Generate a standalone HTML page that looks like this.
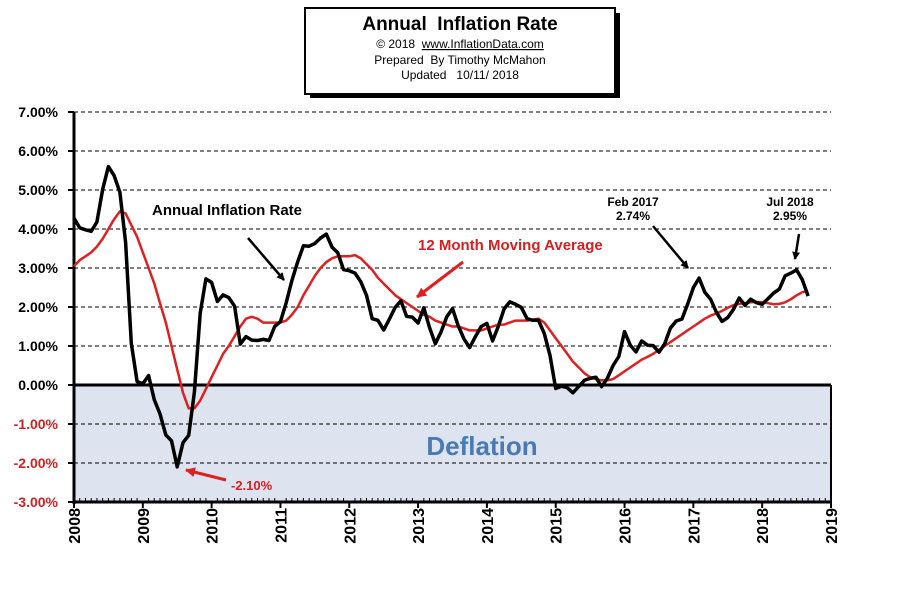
<!DOCTYPE html>
<html><head><meta charset="utf-8"><style>
body{margin:0;background:#fff;}
svg{display:block;font-family:"Liberation Sans",Arial,sans-serif;}
</style></head><body>
<svg id="chart" width="901" height="614">
<rect x="310" y="13" width="310" height="85" fill="#000"/>
<rect x="305" y="8" width="310" height="86" fill="#fff" stroke="#000" stroke-width="2"/>
<text x="460" y="30" text-anchor="middle" font-size="19" font-weight="bold">Annual&#160; Inflation Rate</text>
<text x="460" y="48" text-anchor="middle" font-size="12">© 2018&#160; <tspan text-decoration="underline">www.InflationData.com</tspan></text>
<text x="460" y="64" text-anchor="middle" font-size="12">Prepared&#160; By Timothy McMahon</text>
<text x="460" y="79" text-anchor="middle" font-size="12">Updated&#160;&#160; 10/11/ 2018</text>
<g id="plot"></g>
</svg>
<script>
const years=["2008","2009","2010","2011","2012","2013","2014","2015","2016","2017","2018","2019"];
const yTicks=[7,6,5,4,3,2,1,0,-1,-2,-3];
const inflation=[4.28,4.03,3.98,3.94,4.18,5.02,5.60,5.37,4.94,3.66,1.07,0.09,
0.03,0.24,-0.38,-0.74,-1.28,-1.43,-2.10,-1.48,-1.29,-0.18,1.84,2.72,
2.63,2.14,2.31,2.24,2.02,1.05,1.24,1.15,1.14,1.17,1.14,1.50,
1.63,2.11,2.68,3.16,3.57,3.56,3.63,3.77,3.87,3.53,3.39,2.96,
2.93,2.87,2.65,2.30,1.70,1.66,1.41,1.69,1.99,2.16,1.76,1.74,
1.59,1.98,1.47,1.06,1.36,1.75,1.96,1.52,1.18,0.96,1.24,1.50,
1.58,1.13,1.51,1.95,2.13,2.07,1.99,1.70,1.66,1.66,1.32,0.76,
-0.09,-0.03,-0.07,-0.20,-0.04,0.12,0.17,0.20,-0.04,0.17,0.50,0.73,
1.37,1.02,0.85,1.13,1.02,1.01,0.84,1.06,1.46,1.64,1.69,2.07,
2.50,2.74,2.38,2.20,1.87,1.63,1.73,1.94,2.23,2.04,2.20,2.11,
2.07,2.21,2.36,2.46,2.80,2.87,2.95,2.70,2.28];
const movingAvg=[3.05,3.2,3.3,3.4,3.55,3.75,4.0,4.25,4.45,4.4,4.1,3.8,
3.4,3.0,2.6,2.1,1.6,1.0,0.4,-0.2,-0.6,-0.6,-0.4,-0.1,
0.2,0.5,0.8,1.0,1.25,1.5,1.7,1.75,1.7,1.6,1.6,1.6,
1.6,1.65,1.8,2.0,2.3,2.55,2.8,3.0,3.15,3.25,3.3,3.3,
3.3,3.33,3.25,3.1,2.95,2.75,2.6,2.45,2.3,2.2,2.1,2.0,
1.9,1.8,1.75,1.65,1.6,1.55,1.5,1.5,1.45,1.4,1.4,1.4,
1.45,1.5,1.55,1.55,1.6,1.65,1.65,1.65,1.68,1.7,1.6,1.4,
1.2,1.0,0.8,0.6,0.45,0.3,0.2,0.15,0.12,0.12,0.15,0.25,
0.35,0.45,0.55,0.65,0.72,0.8,0.9,1.0,1.1,1.2,1.3,1.4,
1.5,1.6,1.7,1.78,1.83,1.9,1.98,2.05,2.08,2.1,2.12,2.13,
2.12,2.1,2.07,2.08,2.12,2.2,2.3,2.38,2.42];

const NS="http://www.w3.org/2000/svg";
const g=document.getElementById('plot');
const X0=74,X1=831,Y7=112,Y3=502;
const yearW=(X1-X0)/11;
function xs(i){return X0+i*yearW/12;}
function ys(v){return Y7+(7-v)*(Y3-Y7)/10;}
function mk(tag,attrs){const e=document.createElementNS(NS,tag);for(const k in attrs)e.setAttribute(k,attrs[k]);g.appendChild(e);return e;}

let e=mk('rect',{x:X0,y:ys(0),width:X1-X0,height:Y3-ys(0),fill:'#dde4ef'});


e=mk('text',{x:482,y:455,'text-anchor':'middle','font-size':26,'font-weight':'bold',fill:'#4a7ab5'});
e.textContent='Deflation';



yTicks.forEach(v=>{
  const y=ys(v);
  if(v!==0&&v!==-3){const l=mk('line',{x1:X0,x2:X1,y1:y,y2:y,stroke:'#000','stroke-width':1,'stroke-dasharray':'4,3'});
  
  }
  const tk=mk('line',{x1:X0-6,x2:X0,y1:y,y2:y,stroke:'#000','stroke-width':2});
  
  
  const t=mk('text',{x:58,y:y+5,'text-anchor':'end','font-size':14,'font-weight':'bold',fill:v<0?'#d42020':'#000'});
  t.textContent=v.toFixed(2)+'%';
  
  
});
e=mk('line',{x1:X1,x2:X1,y1:ys(0),y2:Y3,stroke:'#000','stroke-width':2});


e=mk('line',{x1:X0,x2:X1,y1:ys(0),y2:ys(0),stroke:'#000','stroke-width':3});


e=mk('line',{x1:X0,x2:X0,y1:Y7,y2:Y3+2,stroke:'#000','stroke-width':3});


e=mk('line',{x1:X0,x2:X1,y1:Y3,y2:Y3,stroke:'#000','stroke-width':3});


for(let i=0;i<=132;i++){
  const x=xs(i);const big=i%12===0;
  const l=mk('line',{x1:x,x2:x,y1:Y3-(big?0:4),y2:Y3+(big?6:0),stroke:'#000','stroke-width':big?2:1});
  
  
}
years.forEach((yr,k)=>{
  const x=X0+k*yearW+6;
  const t=mk('text',{x:x,y:508,'text-anchor':'end','font-size':16,'font-weight':'bold',transform:`rotate(-90 ${x} 508)`});
  t.textContent=yr;
  
  
});

function path(arr){return arr.map((v,i)=>(i?'L':'M')+xs(i).toFixed(1)+','+ys(v).toFixed(1)).join('');}
e=mk('path',{d:path(movingAvg),fill:'none',stroke:'#e02020','stroke-width':2.5,'stroke-linejoin':'round'});


e=mk('path',{d:path(inflation),fill:'none',stroke:'#000','stroke-width':3.5,'stroke-linejoin':'round'});



const defs=document.createElementNS(NS,'defs');
defs.innerHTML='<marker id="ab" markerWidth="8" markerHeight="8" refX="7" refY="4" orient="auto" markerUnits="userSpaceOnUse"><path d="M0,0L8,4L0,8z" fill="#000"/></marker><marker id="ar" markerWidth="10" markerHeight="10" refX="9" refY="5" orient="auto" markerUnits="userSpaceOnUse"><path d="M0,0L10,5L0,10z" fill="#e02020"/></marker>';
document.getElementById('chart').prepend(defs);
function arrow(x1,y1,x2,y2,c,name){const a=mk('line',{x1,y1,x2,y2,stroke:c==='r'?'#e02020':'#000','stroke-width':c==='r'?3:2.5,'marker-end':c==='r'?'url(#ar)':'url(#ab)'});

}
function label(x,y,txt,anchor,col,size,name){const t=mk('text',{x,y,'text-anchor':anchor,'font-size':size,'font-weight':'bold',fill:col});t.textContent=txt;

}
label(152,215,'Annual Inflation Rate','start','#000',15,'inflation-annotation');
arrow(248,238,284,280,'b','inflation-annotation-arrow');
label(418,250,'12 Month Moving Average','start','#d42020',15,'moving-average-annotation');
arrow(463,262,417,297,'r','moving-average-arrow');
label(231,490,'-2.10%','start','#d42020',13,'min-value-annotation');
arrow(226,480,186,470,'r','min-value-arrow');
label(633,206,'Feb 2017','middle','#000',12,'feb-2017-label');
label(633,220,'2.74%','middle','#000',12,'feb-2017-value');
arrow(653,226,688,268,'b','feb-2017-arrow');
label(790,206,'Jul 2018','middle','#000',12,'jul-2018-label');
label(790,220,'2.95%','middle','#000',12,'jul-2018-value');
arrow(799,234,795,259,'b','jul-2018-arrow');
</script>
</body></html>
